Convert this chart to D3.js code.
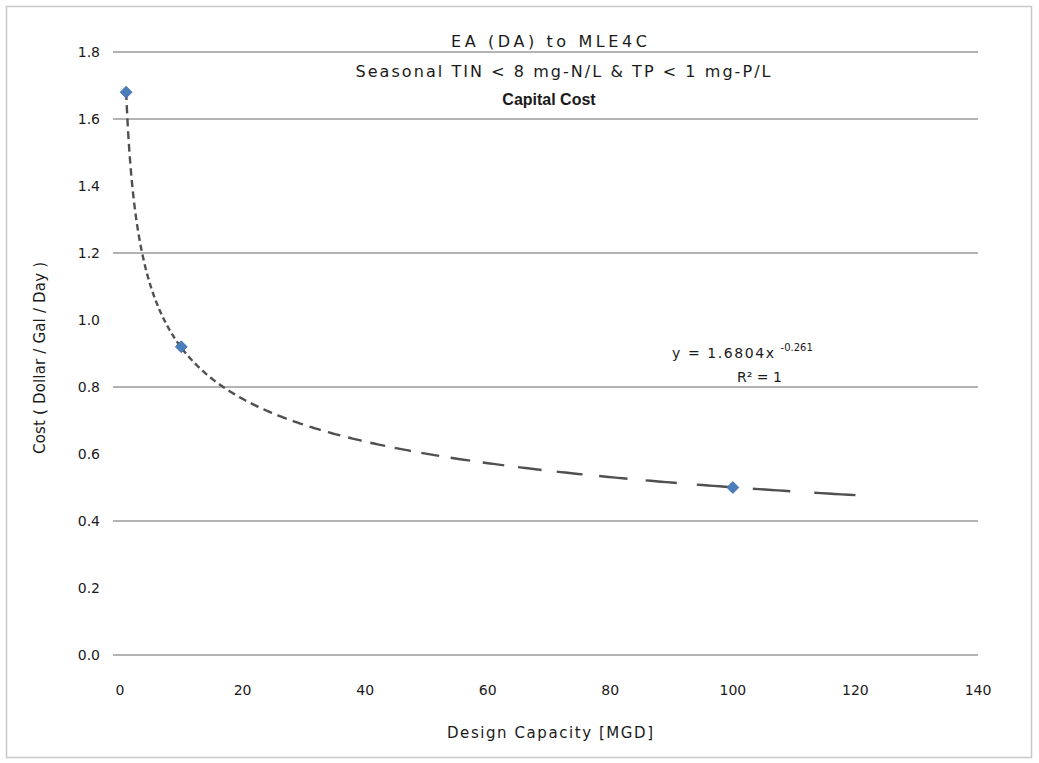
<!DOCTYPE html>
<html>
<head>
<meta charset="utf-8">
<script src="https://cdn.jsdelivr.net/npm/d3@7"></script>
<style>
  html, body { margin: 0; padding: 0; background: #fff; }
  svg { display: block; }
  text { font-family: "DejaVu Sans", "Liberation Sans", Arial, sans-serif; fill: #1a1a1a; }
</style>
</head>
<body>
<svg id="chart" width="1039" height="763"></svg>
<script>
// ---- data ----
const capacity = [1, 10, 100];          // Design Capacity [MGD]
const cost = [1.68, 0.92, 0.50];         // Cost (Dollar / Gal / Day)
const xTicks = [0, 20, 40, 60, 80, 100, 120, 140];
const yTicks = [0.0, 0.2, 0.4, 0.6, 0.8, 1.0, 1.2, 1.4, 1.6, 1.8];
const yGrid = [0.0, 0.4, 0.8, 1.2, 1.6, 1.8];
const titleLines = ["EA (DA) to MLE4C", "Seasonal TIN < 8 mg-N/L & TP < 1 mg-P/L", "Capital Cost"];
const eqText = "y = 1.6804x";
const eqExp = "-0.261";
const r2Text = "R² = 1";
const trendEnd = 120;

const svg = d3.select("#chart");
const x = d3.scaleLinear().domain([0, 140]).range([120, 978]);
const y = d3.scaleLinear().domain([0, 1.8]).range([655, 52]);

// outer border
svg.append("rect").attr("x", 6.5).attr("y", 6.5).attr("width", 1025).attr("height", 751)
  .attr("fill", "none").attr("stroke", "#c8c8c8").attr("stroke-width", 1.5);

// gridlines
svg.append("g").selectAll("line").data(yGrid).join("line")
  .attr("x1", 113).attr("x2", x(140))
  .attr("y1", d => y(d)).attr("y2", d => y(d))
  .attr("stroke", "#9a9a9a").attr("stroke-width", 1.6);

// y tick labels
svg.append("g").selectAll("text").data(yTicks).join("text")
  .attr("x", 100).attr("y", d => y(d)).attr("dy", "0.35em")
  .attr("text-anchor", "end").attr("font-size", 14)
  .text(d => d3.format(".1f")(d));

// x tick labels
svg.append("g").selectAll("text").data(xTicks).join("text")
  .attr("x", d => x(d)).attr("y", 695)
  .attr("text-anchor", "middle").attr("font-size", 14)
  .text(d => d);

// axis titles
svg.append("text").attr("x", 550).attr("y", 738).attr("text-anchor", "middle")
  .attr("font-size", 15).attr("textLength", 206).attr("lengthAdjust", "spacing")
  .text("Design Capacity [MGD]");
svg.append("text").attr("transform", "translate(45,358) rotate(-90)")
  .attr("text-anchor", "middle").attr("font-size", 15)
  .attr("textLength", 192).attr("lengthAdjust", "spacing")
  .text("Cost ( Dollar / Gal / Day )");

// chart title
const tY = [47, 77, 105];
const tX = [549, 563, 549];
const tW = [196, 415, null];
titleLines.forEach((t, i) => {
  const el = svg.append("text").attr("x", tX[i]).attr("y", tY[i]).attr("text-anchor", "middle")
    .attr("font-size", 16).text(t);
  if (i === 2) el.attr("font-weight", "bold").style("font-family", "'Liberation Sans', Arial, sans-serif");
  else el.attr("textLength", tW[i]).attr("lengthAdjust", "spacing");
});

// power trendline fitted from the data (least squares in log space)
const lx = capacity.map(Math.log), ly = cost.map(Math.log);
const mx = d3.mean(lx), my = d3.mean(ly);
const b = d3.sum(lx, (v, i) => (v - mx) * (ly[i] - my)) / d3.sum(lx, v => (v - mx) ** 2);
const a = Math.exp(my - b * mx);
const f = v => a * Math.pow(v, b);
// dashes emulate Excel's per-segment dash rendering (segments spaced in log x)
const nSeg = 52, dashFrac = 0.62;
const l0 = Math.log(d3.min(capacity)), l1 = Math.log(trendEnd);
const step = (l1 - l0) / (nSeg - 1 + dashFrac);
const line = d3.line().x(d => x(d)).y(d => y(f(d)));
const dashes = [];
for (let i = 0; i < nSeg; i++) {
  const s = l0 + i * step, e = s + step * dashFrac;
  dashes.push(d3.range(0, 7).map(k => Math.exp(s + (e - s) * k / 6)));
}
svg.append("g").selectAll("path").data(dashes).join("path")
  .attr("d", line).attr("fill", "none")
  .attr("stroke", "#505050").attr("stroke-width", 2.4).attr("stroke-linecap", "butt");

// markers
svg.append("g").selectAll("path").data(capacity).join("path")
  .attr("transform", (d, i) => `translate(${x(d)},${y(cost[i])})`)
  .attr("d", d3.symbol().type(d3.symbolDiamond2).size(90))
  .attr("fill", "#4a7ebb").attr("stroke", "#3b6aa8").attr("stroke-width", 0.8);

// equation label
const eq = svg.append("text").attr("x", 672).attr("y", 358).attr("font-size", 14);
eq.append("tspan").attr("textLength", 102).attr("lengthAdjust", "spacing").text(eqText);
eq.append("tspan").attr("dx", 5).attr("dy", -7).attr("font-size", 10).text(eqExp);
svg.append("text").attr("x", 737).attr("y", 382).attr("font-size", 14).text(r2Text);
</script>
</body>
</html>
